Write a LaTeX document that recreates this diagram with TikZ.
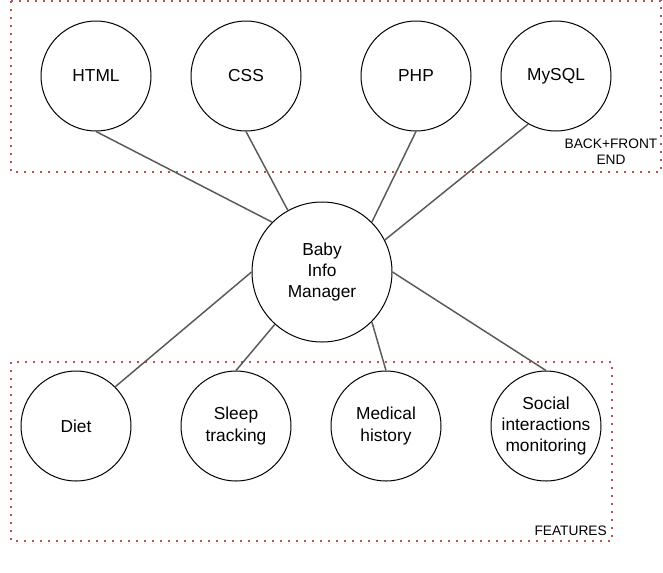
\documentclass[tikz,border=0pt]{standalone}
\usepackage{fontspec}
\setmainfont{Liberation Sans}
\definecolor{dotred}{RGB}{184,84,80}
\definecolor{edgegray}{RGB}{89,89,89}
\begin{document}
\begin{tikzpicture}[x=0.75pt,y=-0.75pt,
  bub/.style={circle,draw=black,line width=0.75pt,minimum size=82.5pt,inner sep=0pt,align=center,font=\fontsize{13}{16}\selectfont},
  hub/.style={bub,minimum size=105pt},
  link/.style={draw=edgegray,line width=1.1pt},
  zone/.style={draw=dotred,line width=1.2pt,dash pattern=on 1.2pt off 4.8pt},
  tag/.style={font=\fontsize{10.3}{12}\selectfont,align=center,inner sep=0pt}]
\useasboundingbox (0,0) rectangle (663,572);
\draw[zone] (11,1) rectangle (661,172);
\draw[zone] (11,362) rectangle (612,541);
\node[tag] (lblback) at (611,152) {BACK+FRONT\\END};
\node[tag,anchor=east] (lblfeat) at (607,531) {FEATURES};
\node[bub] (html) at (96,76) {HTML};
\node[bub] (css) at (246,76) {CSS};
\node[bub] (php) at (416,76) {PHP};
\node[bub] (mysql) at (556,76) {MySQL};
\node[hub] (hub) at (322,272) {Baby\\Info\\Manager};
\node[bub] (diet) at (76,426) {Diet};
\node[bub] (sleep) at (236,426) {Sleep\\tracking};
\node[bub] (med) at (386,426) {Medical\\history};
\node[bub] (social) at (546,426) {Social\\interactions\\monitoring};
\draw[link] (html.-90) -- (hub.135);
\draw[link] (css.-90) -- (hub.119);
\draw[link] (php.-90) -- (hub.45);
\draw[link] (mysql.240) -- (hub.27);
\draw[link] (diet.45) -- (hub.180);
\draw[link] (sleep.90) -- (hub.228);
\draw[link] (med.90) -- (hub.315);
\draw[link] (social.90) -- (hub.0);
\end{tikzpicture}
\end{document}
